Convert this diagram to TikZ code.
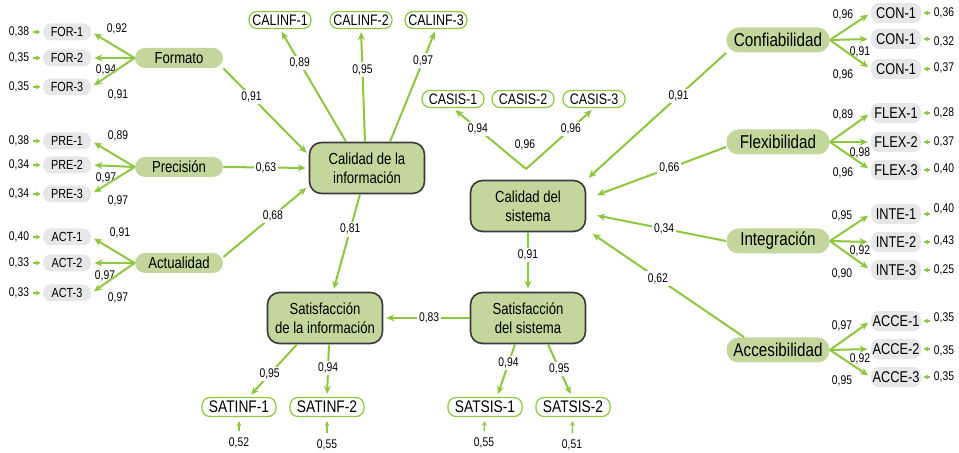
\documentclass[tikz,border=0pt]{standalone}
\usepackage{fontspec}
\setmainfont{Liberation Sans}[FakeStretch=0.82]
\usetikzlibrary{arrows.meta, positioning, calc}
\definecolor{verde}{HTML}{8DC63F}
\definecolor{verdeclaro}{HTML}{C3D69B}
\definecolor{grisind}{HTML}{E6E7E8}
\definecolor{bordeosc}{HTML}{3A3A3A}

\tikzset{
  constructo/.style={draw=bordeosc, line width=0.8pt, fill=verdeclaro, rounded corners=6pt,
    minimum width=57.5pt, minimum height=25.5pt, align=center, inner sep=1pt,
    font=\fontsize{8}{9.3}\selectfont},
  latizq/.style={fill=verdeclaro, rounded corners=5pt, minimum width=44pt, minimum height=10pt,
    inner sep=0pt, font=\fontsize{8}{9}\selectfont},
  latder/.style={latizq, minimum width=51.5pt, minimum height=12.5pt, rounded corners=6pt,
    font=\fontsize{9.3}{10}\selectfont},
  indgris/.style={fill=grisind, rounded corners=4pt, minimum width=24pt, minimum height=8.5pt,
    inner sep=0pt, font=\fontsize{6.6}{7}\selectfont},
  indgrisder/.style={indgris, minimum width=25pt, minimum height=10pt, font=\fontsize{7.8}{8}\selectfont},
  indblanco/.style={draw=verde, line width=0.6pt, fill=white, rounded corners=4pt, minimum width=31pt,
    minimum height=8.5pt, inner sep=0pt, font=\fontsize{7.6}{8}\selectfont},
  indsat/.style={indblanco, minimum width=37pt, minimum height=9.5pt, font=\fontsize{8.4}{9}\selectfont},
  carga/.style={inner sep=1pt, font=\fontsize{6.3}{7}\selectfont},
  cargalinea/.style={carga, fill=white},
  flecha/.style={draw=verde, line width=1pt, -{Stealth[length=4pt,width=3.5pt]}, shorten >=1.5pt},
  flechaerr/.style={draw=verde, line width=0.7pt, -{Stealth[length=2.5pt,width=2.5pt]},
    shorten <=1pt, shorten >=1pt},
}

\begin{document}
\begin{tikzpicture}[x=0.5pt, y=-0.5pt]
\useasboundingbox (0,0) rectangle (959,453);

% Constructos centrales
\node[constructo] (calinf) at (367,168) {Calidad de la\\información};
\node[constructo] (calsis) at (528,206) {Calidad del\\sistema};
\node[constructo] (satinf) at (325,318) {Satisfacción\\de la información};
\node[constructo] (satsis) at (528,318) {Satisfacción\\del sistema};

% Dimensiones de la informacion
\node[latizq] (formato) at (179,58) {Formato};
\node[latizq] (precision) at (179,167) {Precisión};
\node[latizq] (actualidad) at (179,263) {Actualidad};

% Dimensiones del sistema
\node[latder] (confiab) at (778,40) {Confiabilidad};
\node[latder] (flexib) at (778,142) {Flexibilidad};
\node[latder] (integr) at (778,241) {Integración};
\node[latder] (acces) at (778,350) {Accesibilidad};

% Indicadores izquierda
\foreach \n/\y/\er/\ca/\lx/\ly in {1/32/38/92/117/29, 2/58/35/94/106/70, 3/87/35/91/118/95}{
  \node[indgris] (for\n) at (67,\y) {FOR-\n};
  \node[carga] (efor\n) at (19,\y) {0,\er};
  \node[carga] (cfor\n) at (\lx,\ly) {0,\ca};
  \draw[flechaerr] (efor\n) -- (for\n);
  \draw[flecha] (formato.west) -- (for\n.east);
}
\foreach \n/\y/\er/\ca/\lx/\ly in {1/141/38/89/118/136, 2/165/34/97/106/178, 3/194/34/97/118/201}{
  \node[indgris] (pre\n) at (67,\y) {PRE-\n};
  \node[carga] (epre\n) at (19,\y) {0,\er};
  \node[carga] (cpre\n) at (\lx,\ly) {0,\ca};
  \draw[flechaerr] (epre\n) -- (pre\n);
  \draw[flecha] (precision.west) -- (pre\n.east);
}
\foreach \n/\y/\er/\ca/\lx/\ly in {1/237/40/91/120/233, 2/263/33/97/105/276, 3/293/33/97/118/298}{
  \node[indgris] (act\n) at (67,\y) {ACT-\n};
  \node[carga] (eact\n) at (19,\y) {0,\er};
  \node[carga] (cact\n) at (\lx,\ly) {0,\ca};
  \draw[flechaerr] (eact\n) -- (act\n);
  \draw[flecha] (actualidad.west) -- (act\n.east);
}

% Indicadores derecha
\foreach \n/\y/\er/\ey/\ca/\lx/\ly in {1/13/36/13/96/843/15, 2/39/32/42/91/860/52, 3/69/37/68/96/843/75}{
  \node[indgrisder] (con\n) at (896,\y) {CON-1};
  \node[carga] (econ\n) at (944,\ey) {0,\er};
  \node[carga] (ccon\n) at (\lx,\ly) {0,\ca};
  \draw[flechaerr] (econ\n.west |- con\n) -- (con\n.east);
  \draw[flecha] (confiab.east) -- (con\n.west);
}
\foreach \n/\y/\er/\ey/\ca/\lx/\ly in {1/113/28/113/89/843/115, 2/142/37/142/98/860/153, 3/170/40/169/96/843/173}{
  \node[indgrisder] (flex\n) at (896,\y) {FLEX-\n};
  \node[carga] (eflex\n) at (944,\ey) {0,\er};
  \node[carga] (cflex\n) at (\lx,\ly) {0,\ca};
  \draw[flechaerr] (eflex\n.west |- flex\n) -- (flex\n.east);
  \draw[flecha] (flexib.east) -- (flex\n.west);
}
\foreach \n/\y/\er/\ey/\ca/\lx/\ly in {1/214/40/209/95/842/216, 2/242/43/241/92/860/251, 3/270/25/270/90/842/274}{
  \node[indgrisder] (inte\n) at (896,\y) {INTE-\n};
  \node[carga] (einte\n) at (944,\ey) {0,\er};
  \node[carga] (cinte\n) at (\lx,\ly) {0,\ca};
  \draw[flechaerr] (einte\n.west |- inte\n) -- (inte\n.east);
  \draw[flecha] (integr.east) -- (inte\n.west);
}
\foreach \n/\y/\er/\ey/\ca/\lx/\ly in {1/321/35/318/97/842/326, 2/349/35/351/92/860/359, 3/377/35/377/95/842/381}{
  \node[indgrisder] (acce\n) at (896,\y) {ACCE-\n};
  \node[carga] (eacce\n) at (944,\ey) {0,\er};
  \node[carga] (cacce\n) at (\lx,\ly) {0,\ca};
  \draw[flechaerr] (eacce\n.west |- acce\n) -- (acce\n.east);
  \draw[flecha] (acces.east) -- (acce\n.west);
}

% Indicadores de calidad
\node[indblanco] (calinf1) at (280,20) {CALINF-1};
\node[indblanco] (calinf2) at (361,20) {CALINF-2};
\node[indblanco] (calinf3) at (436,20) {CALINF-3};
\node[indblanco] (casis1) at (453,99) {CASIS-1};
\node[indblanco] (casis2) at (523,99) {CASIS-2};
\node[indblanco] (casis3) at (594,99) {CASIS-3};

% Indicadores de satisfaccion
\node[indsat] (satinf1) at (239,407) {SATINF-1};
\node[indsat] (satinf2) at (327,407) {SATINF-2};
\node[indsat] (satsis1) at (485,407) {SATSIS-1};
\node[indsat] (satsis2) at (573,407) {SATSIS-2};
\node[carga] (esatinf1) at (239,443) {0,52};
\node[carga] (esatinf2) at (327,445) {0,55};
\node[carga] (esatsis1) at (484,443) {0,55};
\node[carga] (esatsis2) at (572,445) {0,51};
\draw[flechaerr, shorten <=2pt, shorten >=2pt] (esatinf1) -- (satinf1);
\draw[flechaerr, shorten <=2pt, shorten >=2pt] (esatinf2) -- (satinf2);
\draw[flechaerr, shorten <=2pt, shorten >=2pt] (esatsis1) -- (satsis1);
\draw[flechaerr, shorten <=2pt, shorten >=2pt] (esatsis2) -- (satsis2);

% Dimensiones -> calidad de la informacion
\draw[flecha] (formato.south east) -- ([yshift=6.5pt]calinf.west)
  node[cargalinea, pos=.33] (l1) {0,91};
\draw[flecha] (precision.east) -- (calinf.west)
  node[cargalinea, pos=.5] (l2) {0,63};
\draw[flecha] ([yshift=3pt]actualidad.east) -- ([yshift=-9pt]calinf.west)
  node[cargalinea, pos=.58] (l3) {0,68};

% Calidad de la informacion -> indicadores
\draw[flecha] ([xshift=-10.5pt]calinf.north) -- (calinf1.south)
  node[cargalinea, pos=.7] (l4) {0,89};
\draw[flecha] ([xshift=-1pt]calinf.north) -- (calinf2.south)
  node[cargalinea, pos=.64] (l5) {0,95};
\draw[flecha] ([xshift=11.5pt]calinf.north) -- (calinf3.south)
  node[cargalinea, pos=.72] (l6) {0,97};

% Calidad del sistema -> indicadores
\coordinate (vcasis) at (526,169);
\draw[flecha] (vcasis) -- (casis1.south) node[cargalinea, pos=.66] (l7) {0,94};
\draw[flecha] (vcasis) -- (casis3.south) node[cargalinea, pos=.66] (l8) {0,96};
\node[carga] (l9) at (525,145) {0,96};

% Dimensiones -> calidad del sistema
\draw[flecha] (confiab.south west) -- (calsis.north east)
  node[cargalinea, pos=.34] (l10) {0,91};
\draw[flecha] ([yshift=-2.5pt]flexib.west) -- ([xshift=4pt,yshift=5pt]calsis.east)
  node[cargalinea, pos=.43] (l11) {0,66};
\draw[flecha] (integr.west) -- ([xshift=4pt,yshift=-4.5pt]calsis.east)
  node[cargalinea, pos=.47] (l12) {0,34};
\draw[flecha] ([xshift=-17pt]acces.north) -- ([xshift=2pt]calsis.south east)
  node[cargalinea, pos=.56] (l13) {0,62};

% Relaciones estructurales
\draw[flecha] ([xshift=-3.5pt]calinf.south) -- ([xshift=4pt]satinf.north)
  node[cargalinea, pos=.36] (l14) {0,81};
\draw[flecha] (calsis.south) -- (satsis.north)
  node[cargalinea, pos=.38] (l15) {0,91};
\draw[flecha] (satsis.west) -- (satinf.east)
  node[cargalinea, pos=.47] (l16) {0,83};

% Satisfaccion -> indicadores
\draw[flecha] ([xshift=-14pt]satinf.south) -- ([xshift=5pt]satinf1.north)
  node[cargalinea, pos=.57] (l17) {0,95};
\draw[flecha] ([xshift=2pt]satinf.south) -- (satinf2.north)
  node[cargalinea, pos=.45] (l18) {0,94};
\draw[flecha] ([xshift=-6.5pt]satsis.south) -- ([xshift=6pt]satsis1.north)
  node[cargalinea, pos=.36] (l19) {0,94};
\draw[flecha] ([xshift=10pt]satsis.south) -- ([xshift=-0.5pt]satsis2.north)
  node[cargalinea, pos=.47] (l20) {0,95};
\end{tikzpicture}
\end{document}
